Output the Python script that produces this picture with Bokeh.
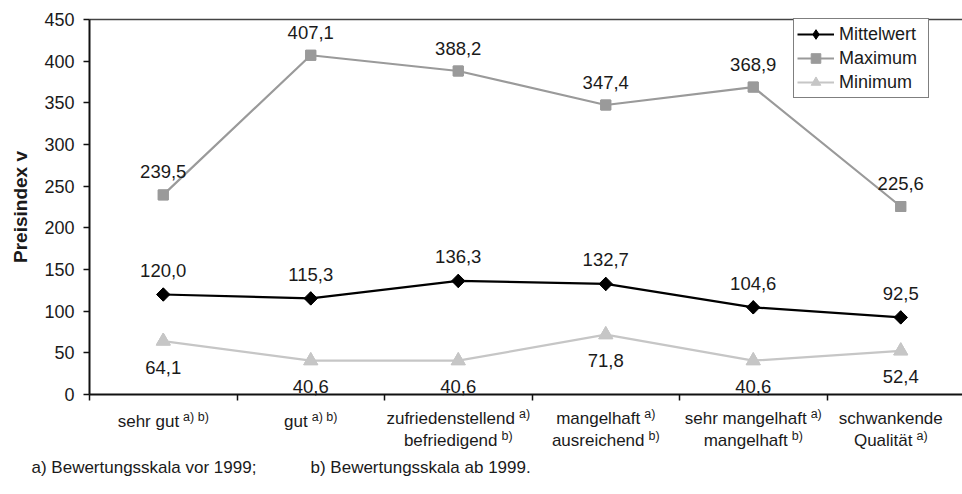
import math
from bokeh.plotting import figure
from bokeh.models import (Range1d, LinearAxis, FixedTicker, Label, Legend,
                          LegendItem, ColumnDataSource)
from bokeh.core.properties import value
from bokeh.embed import file_html
from bokeh.resources import INLINE

# ---------------- data ----------------
cat_main = [["sehr gut"], ["gut"], ["zufriedenstellend", "befriedigend"],
            ["mangelhaft", "ausreichend"], ["sehr mangelhaft", "mangelhaft"],
            ["schwankende", "Qualität"]]
cat_sup = [["a) b)"], ["a) b)"], ["a)", "b)"], ["a)", "b)"],
           ["a)", "b)"], ["", "a)"]]
mittelwert = [120.0, 115.3, 136.3, 132.7, 104.6, 92.5]
maximum = [239.5, 407.1, 388.2, 347.4, 368.9, 225.6]
minimum = [64.1, 40.6, 40.6, 71.8, 40.6, 52.4]
series_names = ["Mittelwert", "Maximum", "Minimum"]
y_ticks = [0, 50, 100, 150, 200, 250, 300, 350, 400, 450]
y_title = "Preisindex v"
footnotes = ["a) Bewertungsskala vor 1999;", "b) Bewertungsskala ab 1999."]

# ---------------- layout constants (page pixels) ----------------
FONT = "Liberation Sans"
TXT = "#1a1a1a"
W, H = 962, 494
AX_LEFT = 89.0      # page x of the y axis
AX_BOTTOM = 394.0   # page y of value 0
AX_TOP = 19.0       # page y of value 450
CAT_PX = 147.5
Y_MAX = 450.0
PX_PER_Y = (AX_BOTTOM - AX_TOP) / Y_MAX
N = len(cat_main)


def px_x(px):
    return (px - AX_LEFT) / CAT_PX


def px_y(py):
    return (AX_BOTTOM - py) / PX_PER_Y


# Helvetica / Arial widths (1/1000 em)
CW = {'a': 556, 'b': 556, 'c': 500, 'd': 556, 'e': 556, 'f': 278, 'g': 556,
      'h': 556, 'i': 222, 'k': 500, 'l': 222, 'm': 833, 'n': 556, 'r': 333,
      's': 500, 't': 278, 'u': 556, 'w': 722, 'z': 500, 'Q': 778, 'ä': 556,
      ' ': 278, ')': 333, '(': 333, 'v': 500, 'o': 556, 'x': 500, 'q': 556}


def tw(s, size):
    return sum(CW.get(c, 556) for c in s) * size / 1000.0


xs = [i + 0.5 for i in range(N)]
X_END = px_x(W)

p = figure(width=W, height=H, x_range=Range1d(px_x(0), X_END),
           y_range=Range1d(px_y(H), px_y(0)),
           output_backend="svg", toolbar_location=None, min_border=0)
p.grid.visible = False
p.outline_line_color = None
p.background_fill_color = "white"
p.border_fill_color = "white"

# x axis at value 0: only (minor) ticks at category boundaries, no labels
xa = p.xaxis[0]
xa.fixed_location = 0
xa.bounds = (0, X_END)
xa.ticker = FixedTicker(ticks=[], minor_ticks=list(range(N + 1)))
xa.minor_tick_out = 6
xa.minor_tick_in = 0
xa.minor_tick_line_color = "#111111"
xa.minor_tick_line_width = 1.5
xa.major_tick_line_color = None
xa.axis_line_color = "#111111"
xa.axis_line_width = 2

ya = p.yaxis[0]
ya.fixed_location = 0
ya.bounds = (0, Y_MAX)
ya.ticker = FixedTicker(ticks=y_ticks)
ya.major_label_text_font = FONT
ya.major_label_text_font_size = "18px"
ya.major_label_text_color = TXT
ya.major_tick_out = 6
ya.major_tick_in = 0
ya.major_label_standoff = 9
ya.minor_tick_line_color = None
ya.axis_line_color = "#111111"
ya.axis_line_width = 2
ya.major_tick_line_color = "#111111"
ya.major_tick_line_width = 1.5

top = LinearAxis(ticker=FixedTicker(ticks=[]), fixed_location=Y_MAX,
                 bounds=(0, X_END), axis_line_color="#444444",
                 axis_line_width=1.5, major_tick_line_color=None,
                 minor_tick_line_color=None)
p.add_layout(top, "above")

# series
styles = [
    dict(color="#000000", marker="square", angle=math.pi / 4, size=9.5, leg="diamond", lsize=13),
    dict(color="#9a9a9a", marker="square", angle=0, size=10, leg="square", lsize=10),
    dict(color="#c6c6c6", marker="triangle", angle=0, size=14, leg="triangle", lsize=14),
]
items = []
for name, vals, st in zip(series_names, [mittelwert, maximum, minimum], styles):
    src = ColumnDataSource(dict(x=xs, y=vals))
    ln = p.line("x", "y", source=src, line_color=st["color"], line_width=2.2)
    # marker used by the legend (hidden underneath the plotted marker)
    lg = p.scatter("x", "y", source=src, marker=st["leg"], size=st["lsize"],
                   fill_color=st["color"], line_color=st["color"])
    p.scatter("x", "y", source=src, marker=st["marker"], angle=st["angle"],
              size=st["size"], fill_color=st["color"], line_color=st["color"])
    items.append(LegendItem(label=name, renderers=[ln, lg]))


def fmt(v):
    return f"{v:.1f}".replace(".", ",")


for vals, off in [(mittelwert, -24), (maximum, -23), (minimum, 26)]:
    src = ColumnDataSource(dict(x=xs, y=vals, t=[fmt(v) for v in vals]))
    p.text("x", "y", text="t", source=src, text_align="center",
           text_baseline="middle", y_offset=off, text_font=value(FONT),
           text_font_size="18.5px", text_color=TXT)

LEG_H = 78
legend = Legend(items=items, location=(793 - AX_LEFT + AX_LEFT, H - 20 - LEG_H),
                label_text_font=FONT, label_text_font_size="18px",
                label_text_color=TXT, glyph_width=37, glyph_height=24,
                label_height=24, label_width=86, label_standoff=5,
                spacing=0, padding=3, margin=0, border_line_color="black",
                border_line_width=1, background_fill_color="white",
                background_fill_alpha=1)
p.add_layout(legend)

# category labels with superscripts
MAIN_SZ, SUP_SZ = 17, 12.5
GAP = 4
line_base = {1: [421], 2: [418, 440]}
for i, (mains, sups) in enumerate(zip(cat_main, cat_sup)):
    bases = line_base[len(mains)]
    shift = -10 if i == N - 1 else 0
    for m, s, b in zip(mains, sups, bases):
        wm = tw(m, MAIN_SZ)
        ws = tw(s, SUP_SZ) + GAP if s else 0
        left = -(wm + ws) / 2 + shift
        p.add_layout(Label(x=xs[i], y=px_y(b), x_offset=left, text=m,
                           text_align="left", text_baseline="alphabetic",
                           text_font=FONT, text_font_size=f"{MAIN_SZ}px",
                           text_color=TXT))
        if s:
            p.add_layout(Label(x=xs[i], y=px_y(b - 5), x_offset=left + wm + GAP,
                               text=s, text_align="left", text_baseline="alphabetic",
                               text_font=FONT, text_font_size=f"{SUP_SZ}px",
                               text_color=TXT))

# y title (centred on the value axis)
p.add_layout(Label(x=px_x(20), y=Y_MAX / 2, text=y_title, angle=math.pi / 2,
                   text_align="center", text_baseline="middle", text_font=FONT,
                   text_font_size="19px", text_font_style="bold", text_color=TXT))

# footnotes
for fx, ft in zip([31, 310], footnotes):
    p.add_layout(Label(x=px_x(fx), y=px_y(467), text=ft, text_align="left",
                       text_baseline="alphabetic", text_font=FONT,
                       text_font_size="17px", text_color=TXT))

open("out.html", "w").write(file_html(p, INLINE))
